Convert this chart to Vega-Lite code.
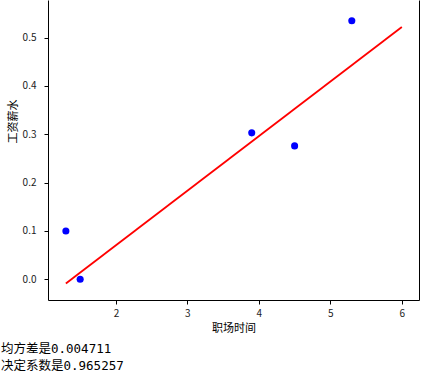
{
  "$schema": "https://vega.github.io/schema/vega-lite/v6.json",
  "width": 371,
  "height": 300,
  "autosize": {"type": "none"},
  "padding": {"left": 48, "top": 0, "right": 8, "bottom": 73},
  "background": "white",
  "datasets": {
    "pts": [
      {"time": 1.3, "salary": 0.1},
      {"time": 1.5, "salary": 0.0},
      {"time": 3.9, "salary": 0.303},
      {"time": 4.5, "salary": 0.276},
      {"time": 5.3, "salary": 0.535}
    ],
    "fit": [
      {"time": 1.3, "pred": -0.009},
      {"time": 6.0, "pred": 0.522}
    ]
  },
  "title": {
    "text": ["均方差是0.004711", "决定系数是0.965257"],
    "orient": "bottom",
    "anchor": "start",
    "frame": "group",
    "dx": -47,
    "offset": 10,
    "font": "DejaVu Sans Mono, Noto Sans CJK SC",
    "fontSize": 12.5,
    "fontWeight": "normal",
    "lineHeight": 16.5,
    "color": "black"
  },
  "config": {
    "view": {"stroke": null},
    "axis": {
      "grid": false,
      "domainColor": "black",
      "tickColor": "black",
      "tickSize": 4,
      "labelFont": "Noto Sans CJK SC",
      "labelFontSize": 10,
      "labelColor": "#222",
      "titleFont": "Noto Sans CJK SC",
      "titleFontSize": 11,
      "titleFontWeight": "normal",
      "titleColor": "black"
    }
  },
  "layer": [
    {
      "data": {"name": "pts"},
      "mark": {"type": "point", "filled": true, "color": "#0000ff", "opacity": 1, "size": 50},
      "encoding": {
        "x": {
          "field": "time", "type": "quantitative",
          "scale": {"domain": [1.05, 6.24], "nice": false, "zero": false},
          "axis": {"values": [2, 3, 4, 5, 6], "format": "d", "title": "职场时间", "labelPadding": 4, "titlePadding": 4}
        },
        "y": {
          "field": "salary", "type": "quantitative",
          "scale": {"domain": [-0.043, 0.578], "nice": false, "zero": false},
          "axis": {"values": [0, 0.1, 0.2, 0.3, 0.4, 0.5], "format": ".1f", "title": "工资薪水", "labelPadding": 8, "titleX": -35, "titleY": 121, "titleAlign": "center", "titleBaseline": "middle", "titleAngle": -90}
        }
      }
    },
    {
      "data": {"name": "fit"},
      "mark": {"type": "line", "color": "#ff0000", "strokeWidth": 1.8},
      "encoding": {
        "x": {"field": "time", "type": "quantitative"},
        "y": {
          "field": "pred", "type": "quantitative",
          "axis": {"orient": "right", "labels": false, "ticks": false, "title": null, "domainColor": "black"}
        }
      }
    }
  ],
  "resolve": {"axis": {"y": "independent"}}
}
